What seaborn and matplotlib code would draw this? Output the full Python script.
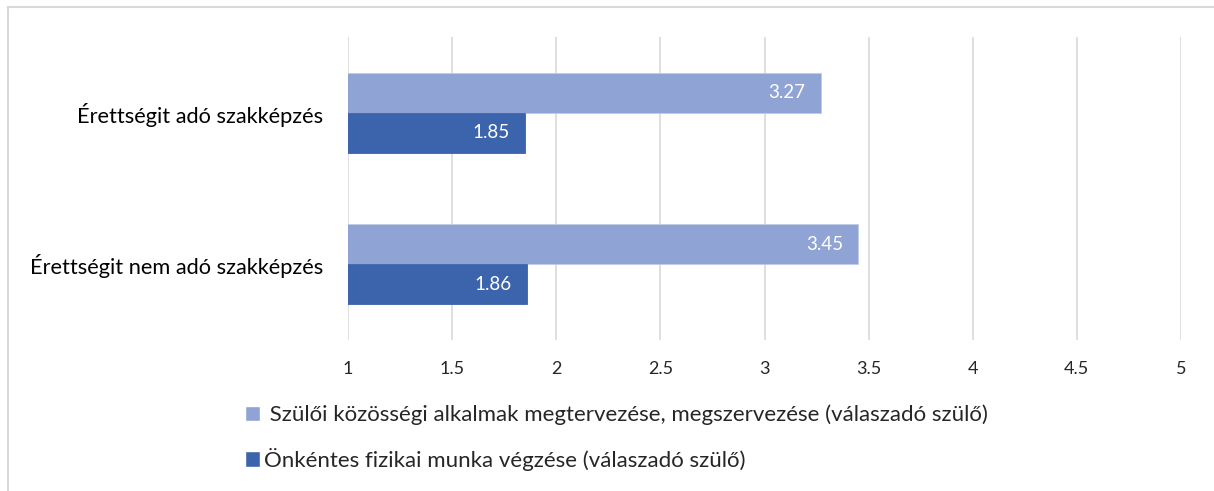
import pandas as pd
import matplotlib.pyplot as plt
import seaborn as sns
from matplotlib.patches import Patch, Rectangle

categories = ['Érettségit adó szakképzés', 'Érettségit nem adó szakképzés']
series_names = ['Szülői közösségi alkalmak megtervezése, megszervezése (válaszadó szülő)',
                'Önkéntes fizikai munka végzése (válaszadó szülő)']
planning = [3.27, 3.45]
physical = [1.85, 1.86]
xticks = [1, 1.5, 2, 2.5, 3, 3.5, 4, 4.5, 5]

colors = ['#8FA4D4', '#3C64AC']

sns.set_theme(style='white')
plt.rcParams['font.family'] = ['Lato', 'DejaVu Sans']

df = pd.DataFrame({
    'Kategória': categories * 2,
    'Sorozat': [series_names[0]] * 2 + [series_names[1]] * 2,
    'Érték': planning + physical,
})

fig = plt.figure(figsize=(12.14, 4.91), dpi=100)
ax = fig.add_axes([348 / 1214, 1 - 340 / 491, (1181 - 348) / 1214, 303 / 491])

sns.barplot(data=df, y='Kategória', x='Érték', hue='Sorozat',
            hue_order=series_names, palette=colors, orient='h',
            width=0.53, ax=ax, legend=False, saturation=1,
            edgecolor='#BFCBE6', linewidth=0.6)
ax.patches[2].set_edgecolor(colors[1])
ax.patches[3].set_edgecolor(colors[1])

for container in ax.containers:
    labels = ax.bar_label(container, fmt='%.2f', label_type='edge',
                          padding=-11, color='white', fontsize=13.5)
    for t in labels:
        t.set_ha('right')

ax.set_xlim(1, 5)
ax.set_xticks(xticks)
ax.set_xticklabels([f'{v:g}' for v in xticks])
ax.grid(axis='x', color='#D9D9D9', linewidth=1.2)
ax.set_axisbelow(True)
for s in ax.spines.values():
    s.set_visible(False)
ax.set_xlabel('')
ax.set_ylabel('')
ax.tick_params(axis='x', length=0, pad=15, labelsize=13, labelcolor='#262626')
ax.tick_params(axis='y', length=0, pad=18, labelsize=15.7, labelcolor='#000000')

handles = [Patch(facecolor=colors[0], label=' ' + series_names[0]),
           Patch(facecolor=colors[1], label=series_names[1])]
fig.legend(handles=handles, loc='upper left', bbox_to_anchor=(236 / 1214, 1 - 396 / 491),
           frameon=False, fontsize=16, handlelength=0.7, handleheight=0.7,
           handletextpad=0.15, labelspacing=1.0, borderaxespad=0)

fig.patches.append(Rectangle((8 / 1214, -0.1), 1.2, 1.1 - 7 / 491,
                             transform=fig.transFigure, fill=False,
                             edgecolor='#D9D9D9', linewidth=1.5))

fig.savefig('out.png', dpi=100)
